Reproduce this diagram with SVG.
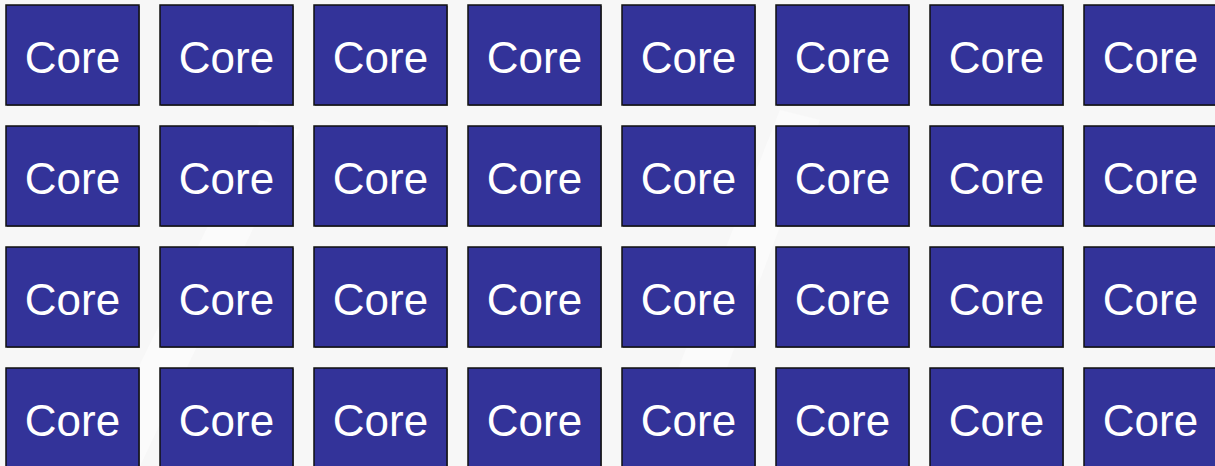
<svg xmlns="http://www.w3.org/2000/svg" width="1215" height="466" viewBox="0 0 1215 466">
<defs>
<style>
.box{fill:#333399;stroke:#111111;stroke-width:1.5}
.sh{fill:#888888}
.lbl{fill:#ffffff;font-family:"Liberation Sans",Arial,sans-serif;font-size:44px;text-anchor:middle}
</style>
<g id="core">
<rect class="sh" x="1" y="1" width="133" height="100"/>
<rect class="box" x="0" y="0" width="133" height="100"/>
<text class="lbl" x="66.5" y="68">Core</text>
</g>
</defs>
<rect width="1215" height="466" fill="#f7f7f7"/>
<path d="M90 466 L260 120 L300 130 L140 466 Z" fill="#fbfbfb"/>
<path d="M640 466 L780 110 L820 120 L690 466 Z" fill="#fbfbfb"/>
<g id="nodes">
<g id="r1c1"><use href="#core" x="6" y="5"/></g>
<g id="r1c2"><use href="#core" x="160" y="5"/></g>
<g id="r1c3"><use href="#core" x="314" y="5"/></g>
<g id="r1c4"><use href="#core" x="468" y="5"/></g>
<g id="r1c5"><use href="#core" x="622" y="5"/></g>
<g id="r1c6"><use href="#core" x="776" y="5"/></g>
<g id="r1c7"><use href="#core" x="930" y="5"/></g>
<g id="r1c8"><use href="#core" x="1084" y="5"/></g>
<g id="r2c1"><use href="#core" x="6" y="126"/></g>
<g id="r2c2"><use href="#core" x="160" y="126"/></g>
<g id="r2c3"><use href="#core" x="314" y="126"/></g>
<g id="r2c4"><use href="#core" x="468" y="126"/></g>
<g id="r2c5"><use href="#core" x="622" y="126"/></g>
<g id="r2c6"><use href="#core" x="776" y="126"/></g>
<g id="r2c7"><use href="#core" x="930" y="126"/></g>
<g id="r2c8"><use href="#core" x="1084" y="126"/></g>
<g id="r3c1"><use href="#core" x="6" y="247"/></g>
<g id="r3c2"><use href="#core" x="160" y="247"/></g>
<g id="r3c3"><use href="#core" x="314" y="247"/></g>
<g id="r3c4"><use href="#core" x="468" y="247"/></g>
<g id="r3c5"><use href="#core" x="622" y="247"/></g>
<g id="r3c6"><use href="#core" x="776" y="247"/></g>
<g id="r3c7"><use href="#core" x="930" y="247"/></g>
<g id="r3c8"><use href="#core" x="1084" y="247"/></g>
<g id="r4c1"><use href="#core" x="6" y="368"/></g>
<g id="r4c2"><use href="#core" x="160" y="368"/></g>
<g id="r4c3"><use href="#core" x="314" y="368"/></g>
<g id="r4c4"><use href="#core" x="468" y="368"/></g>
<g id="r4c5"><use href="#core" x="622" y="368"/></g>
<g id="r4c6"><use href="#core" x="776" y="368"/></g>
<g id="r4c7"><use href="#core" x="930" y="368"/></g>
<g id="r4c8"><use href="#core" x="1084" y="368"/></g>
</g>
<g id="connectors"/>
</svg>
